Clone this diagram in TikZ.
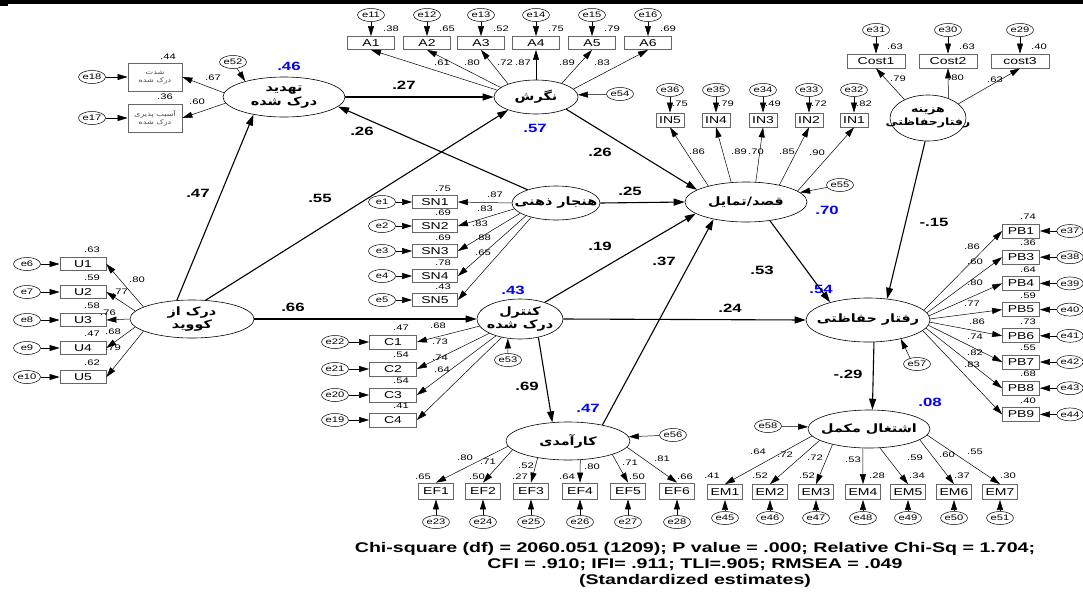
\documentclass[tikz,border=0pt]{standalone}
\usepackage{fontspec}
\setmainfont{Liberation Sans}[FakeStretch=1.4]
\newfontfamily\fa[Script=Arabic,FakeStretch=1.25]{DejaVu Sans}
\TeXXeTstate=1
\usetikzlibrary{shapes.geometric,arrows.meta}
\tikzset{
 lat/.style={draw, ellipse, line width=0.6pt, inner sep=0pt},
 lt/.style={font=\fa\bfseries\fontsize{11.5}{13.5}\selectfont, align=center, inner sep=0pt},
 obs/.style={draw=black!60, line width=0.8pt, rectangle, inner sep=0pt, font=\fontsize{10}{11}\selectfont},
 err/.style={draw, ellipse, line width=0.5pt, minimum width=27pt, minimum height=13pt, inner sep=0pt, font=\fontsize{8}{9}\selectfont},
 num/.style={font=\fontsize{8}{9}\selectfont, inner sep=0pt},
 coef/.style={font=\bfseries\fontsize{12}{13}\selectfont, inner sep=0pt},
 rsq/.style={coef, text=blue},
 spath/.style={-{Triangle[length=11pt,width=7pt]}, line width=1.1pt},
 load/.style={-{Triangle[length=10pt,width=6pt]}, line width=0.5pt},
 earr/.style={-{Triangle[length=10pt,width=6pt]}, line width=0.5pt},
 smallfa/.style={font=\fa\fontsize{6.5}{8}\selectfont, align=center, text=black!70, inner sep=0pt}
}
\begin{document}
\begin{tikzpicture}[x=1pt,y=-1pt]
\useasboundingbox (0,0) rectangle (1083,592);
\fill[white] (0,0) rectangle (1083,592);
\fill[black] (0,0) rectangle (1083,4);
\fill[black] (0,0) rectangle (8,6);

% ---------- latent variables ----------
\node[lat, minimum width=122pt, minimum height=40pt, label={[lt]center:{\beginR تهدید\endR\\\beginR درک شده\endR}}] (thr) at (284,97) {};
\node[lat, minimum width=84pt, minimum height=34pt, label={[lt]center:{\beginR نگرش\endR}}] (att) at (536,97) {};
\node[lat, minimum width=88pt, minimum height=34pt, label={[lt]center:{\beginR هنجار ذهنی\endR}}] (sn) at (556,203) {};
\node[lat, minimum width=122pt, minimum height=40pt, label={[lt]center:{\beginR قصد/تمایل\endR}}] (int) at (746,202) {};
\node[lat, minimum width=76pt, minimum height=46pt, label={[lt, font=\fa\bfseries\fontsize{10}{13}\selectfont]center:{\beginR هزینه\endR\\\beginR رفتارحفاظتی\endR}}] (cost) at (928,118) {};
\node[lat, minimum width=124pt, minimum height=38pt, label={[lt]center:{\beginR درک از\endR\\\beginR کووید\endR}}] (cov) at (192,319) {};
\node[lat, minimum width=86pt, minimum height=40pt, label={[lt]center:{\beginR کنترل\endR\\\beginR درک شده\endR}}] (ctl) at (520,319) {};
\node[lat, minimum width=124pt, minimum height=44pt, label={[lt]center:{\beginR رفتار حفاظتی\endR}}] (beh) at (868,320) {};
\node[lat, minimum width=124pt, minimum height=38pt, label={[lt]center:{\beginR کارآمدی\endR}}] (eff) at (568,441) {};
\node[lat, minimum width=122pt, minimum height=38pt, label={[lt]center:{\beginR اشتغال مکمل\endR}}] (emp) at (869,429) {};

% ---------- latent residuals ----------
\node[err] (e52) at (233,62) {e52};
\node[err] (e54) at (620,94) {e54};
\node[err] (e55) at (840,185) {e55};
\node[err] (e53) at (508,360) {e53};
\node[err] (e56) at (673,435) {e56};
\node[err] (e57) at (917,364) {e57};
\node[err] (e58) at (768,426) {e58};
\draw[earr] (e52) -- (thr.158);
\draw[earr] (e54) -- (att.3);
\draw[earr] (e55) -- (int.10);
\draw[earr] (e53) -- (ctl.238);
\draw[earr] (e56) -- (eff.4);
\draw[earr] (e57.140) -- (beh.330);
\draw[earr] (e58) -- (emp.178);

% ---------- R2 of latents ----------
\node[rsq] (r46) at (289,66) {.46};
\node[rsq] (r57) at (535,128) {.57};
\node[rsq] (r70) at (827,210) {.70};
\node[rsq] (r43) at (513,290) {.43};
\node[rsq] (r54) at (821,289) {.54};
\node[rsq] (r47) at (588,408) {.47};
\node[rsq] (r08) at (930,402) {.08};

% ---------- structural paths ----------
\draw[spath] (cov.129) -- (thr.210);
\draw[spath] (cov.54) -- (att.205);
\draw[spath] (cov.0) -- (ctl.180);
\draw[spath] (thr.0) -- (att.180);
\draw[spath] (sn.155) -- (thr.350);
\draw[spath] (att.338) -- (int.166);
\draw[spath] (sn.0) -- (int.180);
\draw[spath] (ctl.34) -- (int.193);
\draw[spath] (eff.25) -- (int.208);
\draw[spath] (int.322) -- (beh.155);
\draw[spath] (ctl.0) -- (beh.180);
\draw[spath] (ctl.315) -- (eff.130);
\draw[spath] (cost.263) -- (beh.48);
\draw[spath] (beh.285) -- (emp.80);

\node[coef] (p1) at (198,193) {.47};
\node[coef] (p2) at (320,198) {.55};
\node[coef] (p3) at (293,307) {.66};
\node[coef] (p4) at (404,85) {.27};
\node[coef] (p5) at (362,131) {.26};
\node[coef] (p6) at (600,152) {.26};
\node[coef] (p7) at (630,191) {.25};
\node[coef] (p8) at (600,246) {.19};
\node[coef] (p9) at (664,261) {.37};
\node[coef] (p10) at (762,270) {.53};
\node[coef] (p11) at (730,308) {.24};
\node[coef] (p12) at (527,386) {.69};
\node[coef] (p13) at (934,222) {-.15};
\node[coef] (p14) at (848,374) {-.29};

% ---------- threat indicators ----------
\node[obs, minimum width=54pt, minimum height=28pt] (sev) at (155,77) {};
\node[smallfa] (sevt) at (155,77) {\beginR شدت\endR\\\beginR درک شده\endR};
\node[obs, minimum width=54pt, minimum height=28pt] (vul) at (155,118) {};
\node[smallfa] (vult) at (155,118) {\beginR آسیب پذیری\endR\\\beginR درک شده\endR};
\node[err] (e18) at (92,77) {e18};
\node[err] (e17) at (92,118) {e17};
\draw[earr] (e18) -- (sev);
\draw[earr] (e17) -- (vul);
\draw[load] (thr.176) -- (sev.east);
\draw[load] (thr.186) -- (vul.east);
\node[num] (rsev) at (168,57) {.44};
\node[num] (rvul) at (165,97) {.36};
\node[num] (lsev) at (213,78) {.67};
\node[num] (lvul) at (197,102) {.60};

% ---------- attitude indicators ----------
\foreach \i/\x/\r/\l/\lx/\ang in {1/371/.38/.61/442/170, 2/427/.65/.80/472/165, 3/481/.52/.72/505/155, 4/536/.75/.87/523/90, 5/592/.79/.89/567/28, 6/648/.69/.83/602/12} {
  \pgfmathtruncatemacro\e{10+\i}
  \node[obs, minimum width=47pt, minimum height=13pt] (A\i) at (\x,43) {A\i};
  \node[err] (e\e) at (\x,15) {e\e};
  \draw[earr] (e\e) -- (A\i);
  \node[num] (rA\i) at (\x+20,29) {\r};
  \draw[load] (att.\ang) -- (A\i.south);
  \node[num] (lA\i) at (\lx,63) {\l};
}

% ---------- intention indicators ----------
\foreach \n/\x/\e/\r/\ang in {5/670/36/.75/157, 4/716/35/.79/127, 3/763/34/.49/64, 2/809/33/.72/27, 1/854/32/.82/12} {
  \node[obs, minimum width=28pt, minimum height=14pt] (IN\n) at (\x,120) {IN\n};
  \node[err] (e\e) at (\x,90) {e\e};
  \draw[earr] (e\e) -- (IN\n);
  \node[num, anchor=west] (rIN\n) at (\x+2,104) {\r};
  \draw[load] (int.\ang) -- (IN\n.south);
}
\node[num] (lIN5) at (697,152) {.86};
\node[num] (lIN4) at (739,152) {.89};
\node[num] (lIN3) at (756,152) {.70};
\node[num] (lIN2) at (787,152) {.85};
\node[num] (lIN1) at (817,153) {.90};

% ---------- cost indicators ----------
\foreach \n/\t/\x/\e/\r/\ang/\l/\lx/\ly in {1/Cost1/876/31/.63/142/.79/898/79, 2/Cost2/948/30/.63/44/.80/956/78, 3/cost3/1020/29/.40/25/.63/995/80} {
  \node[obs, minimum width=58pt, minimum height=14pt] (CO\n) at (\x,61) {\t};
  \node[err] (e\e) at (\x,30) {e\e};
  \draw[earr] (e\e) -- (CO\n);
  \node[num] (rCO\n) at (\x+19,47) {\r};
  \draw[load] (cost.\ang) -- (CO\n.south);
  \node[num] (lCO\n) at (\lx,\ly) {\l};
}

% ---------- covid indicators ----------
\foreach \i/\y/\r/\ang/\l/\lx/\ly in {1/264/.63/166/.80/137/280, 2/292/.59/172/.77/120/292, 3/320/.58/180/.76/108/313, 4/348/.47/188/.68/113/332, 5/377/.62/194/.79/113/348} {
  \pgfmathtruncatemacro\e{5+\i}
  \node[obs, minimum width=46pt, minimum height=13pt] (U\i) at (83,\y) {U\i};
  \node[err] (e\e) at (27,\y) {e\e};
  \draw[earr] (e\e) -- (U\i);
  \node[num] (rU\i) at (92,\y-14) {\r};
  \draw[load] (cov.\ang) -- (U\i.east);
  \node[num] (lU\i) at (\lx,\ly) {\l};
}

% ---------- subjective norm indicators ----------
\foreach \i/\y/\ang/\r/\l/\lx/\ly in {1/202/180/.75/.87/495/195, 2/226/188/.69/.83/485/209, 3/251/196/.69/.83/480/224, 4/276/203/.78/.88/483/238, 5/300/210/.43/.65/483/253} {
  \node[obs, minimum width=45pt, minimum height=13pt] (SN\i) at (435,\y) {SN\i};
  \node[err] (e\i) at (382,\y) {e\i};
  \draw[earr] (e\i) -- (SN\i);
  \node[num] (rSN\i) at (443,\y-13) {\r};
  \draw[load] (sn.\ang) -- (SN\i.east);
  \node[num] (lSN\i) at (\lx,\ly) {\l};
}

% ---------- control indicators ----------
\foreach \i/\y/\e/\ang/\r/\l/\lx/\ly in {1/342/22/190/.47/.68/438/326, 2/369/21/205/.54/.73/440/342, 3/395/20/215/.54/.74/440/358, 4/420/19/225/.41/.64/442/370} {
  \node[obs, minimum width=47pt, minimum height=14pt] (C\i) at (393,\y) {C\i};
  \node[err] (e\e) at (335,\y) {e\e};
  \draw[earr] (e\e) -- (C\i);
  \node[num] (rC\i) at (401,\y-14) {\r};
  \draw[load] (ctl.\ang) -- (C\i.east);
  \node[num] (lC\i) at (\lx,\ly) {\l};
}

% ---------- behaviour indicators ----------
\foreach \n/\k/\e/\r/\ang/\l/\lx/\ly in {1/0/37/.74/10/.86/972/247, 3/1/38/.36/7/.60/975/262, 4/2/39/.64/4/.80/975/283, 5/3/40/.59/1/.77/972/304, 6/4/41/.73/358/.86/977/322, 7/5/42/.55/355/.74/975/337, 8/6/43/.68/352/.82/975/353, 9/7/44/.40/349/.83/972/365} {
  \pgfmathsetmacro\y{231+26.2*\k}
  \node[obs, minimum width=37pt, minimum height=14pt] (PB\n) at (1021,\y) {PB\n};
  \node[err, minimum width=25pt] (e\e) at (1070,\y) {e\e};
  \draw[earr] (e\e) -- (PB\n);
  \node[num] (rPB\n) at (1028,\y-14) {\r};
  \draw[load] (beh.\ang) -- (PB\n.west);
  \node[num] (lPB\n) at (\lx,\ly) {\l};
}

% ---------- efficacy indicators ----------
\foreach \i/\x/\ang/\r/\rx/\l/\lx/\ly in {1/436/185/.65/423/.80/465/458, 2/483/189/.50/477/.71/488/462, 3/531/209/.27/520/.52/526/466, 4/580/303/.64/567/.80/592/467, 5/628/343/.50/637/.71/630/463, 6/677/354/.66/685/.81/662/459} {
  \pgfmathtruncatemacro\e{22+\i}
  \node[obs, minimum width=35pt, minimum height=16pt] (EF\i) at (\x,491) {EF\i};
  \node[err] (e\e) at (\x,522) {e\e};
  \draw[earr] (e\e) -- (EF\i);
  \node[num] (rEF\i) at (\rx,477) {\r};
  \draw[load] (eff.\ang) -- (EF\i.north);
  \node[num] (lEF\i) at (\lx,\ly) {\l};
}

% ---------- employment indicators ----------
\foreach \i/\x/\ang/\r/\rx/\l/\lx/\ly in {1/725/187/.41/712/.64/758/452, 2/770/193/.52/760/.72/785/455, 3/816/203/.52/807/.72/815/458, 4/863/252/.28/877/.53/853/460, 5/908/300/.34/917/.59/915/458, 6/954/348/.37/962/.60/947/455, 7/1000/354/.30/1008/.55/975/452} {
  \pgfmathtruncatemacro\e{44+\i}
  \node[obs, minimum width=35pt, minimum height=15pt] (EM\i) at (\x,492) {EM\i};
  \node[err] (e\e) at (\x,518) {e\e};
  \draw[earr] (e\e) -- (EM\i);
  \node[num] (rEM\i) at (\rx,476) {\r};
  \draw[load] (emp.\ang) -- (EM\i.north);
  \node[num] (lEM\i) at (\lx,\ly) {\l};
}

% ---------- fit statistics ----------
\node[font=\bfseries\fontsize{14}{16}\selectfont, align=center, inner sep=0pt] (fit) at (695,565)
 {Chi-square (df) = 2060.051 (1209); P value = .000; Relative Chi-Sq = 1.704;\\
  CFI = .910; IFI= .911; TLI=.905; RMSEA = .049\\
  (Standardized estimates)};
\end{tikzpicture}
\end{document}
